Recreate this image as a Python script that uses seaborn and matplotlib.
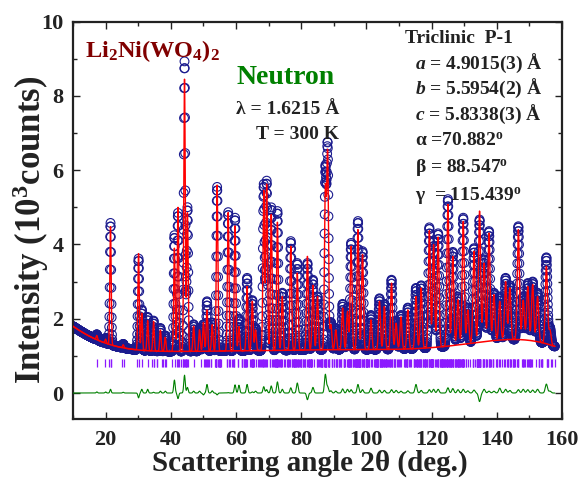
import numpy as np
import pandas as pd
import matplotlib
matplotlib.use("Agg")
import matplotlib.pyplot as plt
import seaborn as sns
from matplotlib.ticker import MultipleLocator

# ---------------------------------------------------------------- data
# Li2Ni(WO4)2, neutron powder diffraction, 300 K
wavelength = 1.6215                         # Angstrom
cell_abc = [4.9015, 5.5954, 5.8338]         # Angstrom
cell_angles = [70.882, 88.547, 115.439]     # degrees

# strongest reflections: position (2theta), calculated and observed maxima (10^3 counts)
peak_pos = [17.3, 20.0, 21.5, 25.4, 30.1, 31.1, 32.9, 34.7, 36.8, 38.3,
            41.1, 42.2, 44.2, 45.1, 47.0, 48.8, 50.0, 51.1, 52.7, 54.2,
            57.6, 59.7, 60.9, 63.4, 65.0, 66.0, 68.5, 69.4, 70.8, 72.7,
            74.2, 76.8, 78.8, 81.9, 83.6, 85.0, 87.4, 88.1, 89.1, 90.6,
            92.7, 94.2, 95.3, 97.4, 98.8, 101.4, 104.0, 105.5, 107.7, 109.1,
            110.6, 112.7, 115.2, 116.8, 119.3, 120.6, 122.0, 125.0, 126.5, 128.1,
            129.7, 131.1, 133.0, 134.7, 136.1, 137.6, 139.1, 140.9, 142.7, 144.0,
            146.6, 148.1, 149.5, 151.0, 152.5, 155.2, 156.3]
calc_top = [1.55, 1.45, 4.48, 1.30, 3.75, 2.15, 1.95, 1.93, 1.70, 1.50,
            3.90, 5.00, 8.45, 4.85, 1.80, 1.70, 1.90, 2.24, 1.84, 5.60,
            4.86, 4.50, 1.79, 2.87, 2.47, 1.70, 5.45, 5.62, 4.81, 4.60,
            2.60, 3.95, 3.23, 3.68, 2.90, 2.60, 5.40, 6.40, 1.84, 1.70,
            2.29, 2.20, 3.95, 4.40, 3.73, 1.97, 2.47, 2.33, 2.96, 1.88,
            2.05, 2.24, 2.60, 2.83, 4.37, 4.00, 4.20, 5.08, 3.68, 2.51,
            4.62, 2.24, 3.82, 4.90, 3.50, 4.31, 2.65, 2.47, 3.00, 2.83,
            4.40, 2.50, 2.87, 2.92, 2.60, 3.41, 1.70]
obs_top = [1.58, 1.48, 4.58, 1.32, 3.62, 2.25, 2.05, 1.95, 1.75, 1.55,
           4.25, 4.85, 8.93, 5.00, 1.85, 1.75, 1.85, 2.47, 1.90, 5.55,
           4.87, 4.72, 2.00, 3.10, 2.50, 1.75, 5.62, 5.71, 5.00, 4.90,
           2.70, 4.09, 3.50, 3.50, 3.05, 2.60, 5.90, 6.57, 1.90, 1.75,
           2.40, 2.30, 4.04, 4.63, 3.82, 2.10, 2.55, 2.40, 3.05, 1.95,
           2.10, 2.30, 2.83, 2.90, 4.46, 4.10, 4.30, 5.22, 3.80, 2.60,
           4.72, 2.30, 3.90, 4.67, 3.60, 4.36, 2.70, 2.60, 3.10, 2.90,
           4.49, 2.60, 2.96, 3.00, 2.70, 3.65, 1.75]

# refined background level
bg_angle = [10, 12, 14, 16, 18, 20, 23, 26, 30, 40, 60, 80, 100,
            115, 125, 135, 145, 150, 155, 158]
bg_level = [1.80, 1.68, 1.57, 1.49, 1.41, 1.35, 1.27, 1.20, 1.15, 1.13, 1.13,
            1.16, 1.17, 1.19, 1.27, 1.37, 1.44, 1.42, 1.33, 1.25]

scan_start, scan_stop, scan_step = 10.0, 157.8, 0.05

# ---------------------------------------------------------------- profile
tth = np.arange(scan_start, scan_stop + 1e-9, scan_step)
bg_fit = np.polynomial.Chebyshev.fit(bg_angle, bg_level, deg=9)
background = bg_fit(tth)

pos = np.asarray(peak_pos)
fwhm = 0.45 + 0.0025 * (pos - 10.0)
shape = np.exp(-4 * np.log(2) * ((tth[:, None] - pos[None, :]) / fwhm[None, :]) ** 2)
calc = background + shape @ (np.asarray(calc_top) - bg_fit(pos))
obs = background + shape @ (np.asarray(obs_top) - bg_fit(pos))

profile = pd.DataFrame({"two_theta": tth, "obs": obs, "calc": calc,
                        "background": background, "diff": obs - calc})

# Bragg positions of the triclinic P-1 cell
a, b, c = cell_abc
ca, cb, cg = np.cos(np.radians(cell_angles))
metric = np.array([[a * a, a * b * cg, a * c * cb],
                   [a * b * cg, b * b, b * c * ca],
                   [a * c * cb, b * c * ca, c * c]])
recip = np.linalg.inv(metric)
rng = np.arange(-10, 11)
hkl = np.array(np.meshgrid(rng, rng, rng, indexing="ij")).reshape(3, -1).T
hkl = hkl[np.any(hkl != 0, axis=1)]
sin_theta = wavelength * np.sqrt(np.einsum("ij,jk,ik->i", hkl, recip, hkl)) / 2
sin_theta = sin_theta[sin_theta < np.sin(np.radians(scan_stop / 2))]
bragg = np.unique(np.round(2 * np.degrees(np.arcsin(sin_theta)), 3))

# ---------------------------------------------------------------- style
sns.set_theme(style="ticks")
plt.rcParams["font.family"] = ["Liberation Serif", "DejaVu Serif"]
plt.rcParams["font.weight"] = "bold"
plt.rcParams["mathtext.fontset"] = "custom"
plt.rcParams["mathtext.rm"] = "Liberation Serif:bold"
plt.rcParams["mathtext.bf"] = "Liberation Serif:bold"
plt.rcParams["mathtext.it"] = "Liberation Serif:italic:bold"
plt.rcParams["mathtext.default"] = "rm"

ink = "#222222"
fig = plt.figure(figsize=(5.8, 4.83), dpi=100)
ax = fig.add_axes([0.1259, 0.1325, 0.8431, 0.8226])

sns.scatterplot(data=profile, x="two_theta", y="obs", ax=ax, marker="o", s=40,
                facecolors="none", edgecolor="#1b1b8e", linewidth=0.8,
                legend=False, zorder=2)
sns.lineplot(data=profile, x="two_theta", y="calc", ax=ax, color="#ff0000",
             lw=1.0, estimator=None, sort=False, zorder=3)
sns.lineplot(data=profile, x="two_theta", y="background", ax=ax, color="#ff0000",
             lw=1.1, estimator=None, sort=False, zorder=3)
sns.lineplot(data=profile, x="two_theta", y="diff", ax=ax, color="#008000",
             lw=0.8, estimator=None, sort=False, zorder=3)
ax.vlines(bragg, 0.70, 0.91, color="#8c1aff", lw=0.9, zorder=3)

ax.set_xlim(10, 160)
ax.set_ylim(-0.7, 10)
ax.xaxis.set_major_locator(MultipleLocator(20))
ax.xaxis.set_minor_locator(MultipleLocator(10))
ax.yaxis.set_major_locator(MultipleLocator(2))
ax.yaxis.set_minor_locator(MultipleLocator(1))
ax.tick_params(which="both", direction="in", top=True, right=True,
               colors=ink, labelcolor=ink)
ax.tick_params(which="major", length=5, width=1.0, labelsize=16)
ax.tick_params(axis="x", which="major", pad=8)
ax.tick_params(axis="y", which="major", pad=7)
ax.tick_params(which="minor", length=3, width=1.0)
for sp in ax.spines.values():
    sp.set_linewidth(1.6)
    sp.set_color(ink)

ax.set_xlabel("Scattering angle 2θ (deg.)", fontsize=21, fontweight="bold",
              color=ink)
ax.set_ylabel(r"Intensity (10$^3$counts)", fontsize=25, fontweight="bold",
              color=ink)
ax.xaxis.set_label_coords(0.485, -0.078)
ax.yaxis.set_label_coords(-0.045, 0.475)

tr = ax.transAxes
ax.text(0.0245, 0.911, r"Li$_2$Ni(WO$_4$)$_2$", transform=tr, fontsize=17.5,
        color="#800000", fontweight="bold")
ax.text(0.335, 0.843, "Neutron", transform=tr, fontsize=20, color="#008000",
        fontweight="bold")
ax.text(0.333, 0.768, "λ = 1.6215 Å", transform=tr, fontsize=14, color=ink)
ax.text(0.374, 0.705, "T = 300 K", transform=tr, fontsize=14, color=ink)
ax.text(0.679, 0.946, "Triclinic  P-1", transform=tr, fontsize=14, color=ink)
params = [(0.881, r"$\mathit{a}$ = 4.9015(3) Å"),
          (0.818, r"$\mathit{b}$ = 5.5954(2) Å"),
          (0.753, r"$\mathit{c}$ = 5.8338(3) Å"),
          (0.687, r"α =70.882$^{\rm o}$"),
          (0.619, r"β = 88.547$^{\rm o}$"),
          (0.549, r"γ  = 115.439$^{\rm o}$")]
for yy, txt in params:
    ax.text(0.699, yy, txt, transform=tr, fontsize=14, color=ink)

fig.savefig("out.png", dpi=100)
